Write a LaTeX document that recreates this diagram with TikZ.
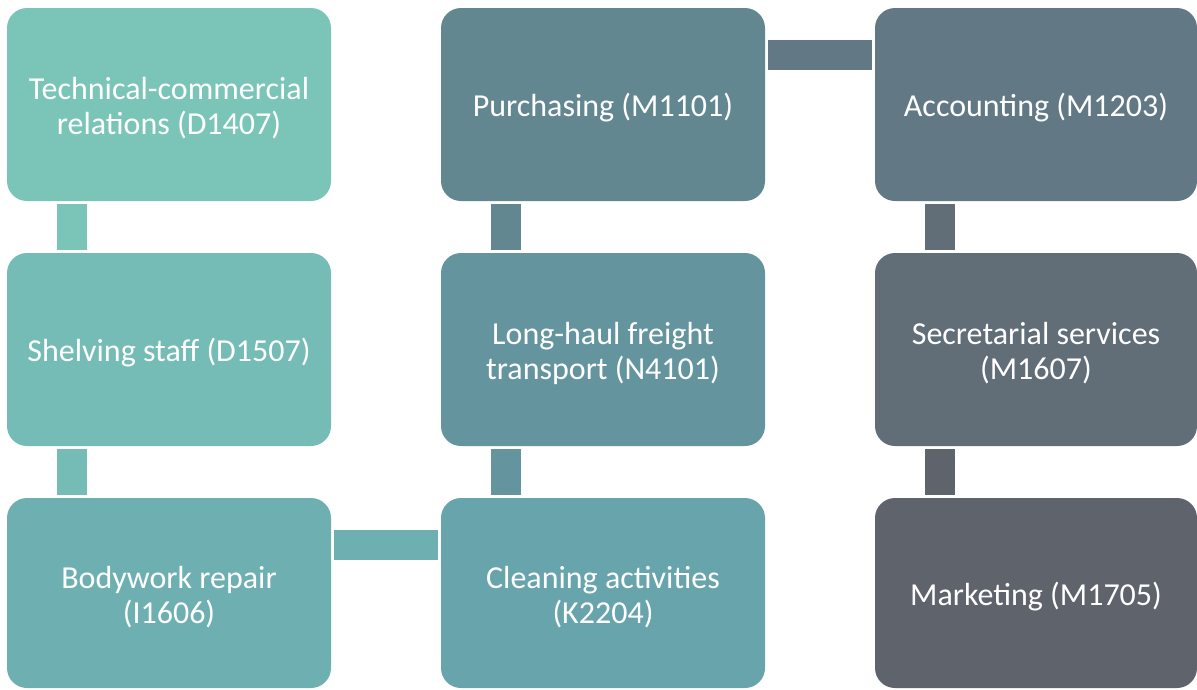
\documentclass[tikz,border=0pt]{standalone}
\usepackage{fontspec}
\setmainfont{Carlito}
\definecolor{cA}{RGB}{122,197,184}
\definecolor{cB}{RGB}{116,188,181}
\definecolor{cC}{RGB}{110,176,177}
\definecolor{cD}{RGB}{104,164,171}
\definecolor{cE}{RGB}{100,148,157}
\definecolor{cF}{RGB}{98,135,145}
\definecolor{cG}{RGB}{98,120,133}
\definecolor{cH}{RGB}{97,109,119}
\definecolor{cI}{RGB}{94,99,108}
\newcommand{\topstrut}{\rule{0pt}{30pt}}
\tikzset{
  box/.style={fill=#1, draw=none, rounded corners=20pt, inner sep=0pt,
    minimum width=324pt, minimum height=193pt, align=center, text=white,
    font=\fontsize{32}{35}\selectfont,
    execute at begin node={\topstrut}},
  bar/.style={draw=#1, line width=30pt, shorten <=3pt, shorten >=3pt}
}
\begin{document}
\begin{tikzpicture}[x=1pt,y=-1pt]
\useasboundingbox (0,0) rectangle (1197,689);
% column 1
\node[box=cA] (tech) at (169,104.5) {\topstrut Technical-commercial\\relations (D1407)};
\node[box=cB] (shelf) at (169,349.5) {Shelving staff (D1507)};
\node[box=cC, minimum height=190pt] (body) at (169,593) {\topstrut Bodywork repair\\(I1606)};
% column 2
\node[box=cF] (purch) at (603,104.5) {Purchasing (M1101)};
\node[box=cE] (long) at (603,349.5) {\topstrut Long-haul freight\\transport (N4101)};
\node[box=cD, minimum height=190pt] (clean) at (603,593) {\topstrut Cleaning activities\\(K2204)};
% column 3
\node[box=cG, minimum width=322pt] (acc) at (1036,104.5) {Accounting (M1203)};
\node[box=cH, minimum width=322pt] (secr) at (1036,349.5) {\topstrut Secretarial services\\(M1607)};
\node[box=cI, minimum width=322pt, minimum height=190pt] (mark) at (1036,593) {Marketing (M1705)};
% connectors
\draw[bar=cA] ([xshift=-97pt]tech.south) -- ([xshift=-97pt]shelf.north);
\draw[bar=cB] ([xshift=-97pt]shelf.south) -- ([xshift=-97pt]body.north);
\draw[bar=cC] ([yshift=48pt]body.east) -- ([yshift=48pt]clean.west);
\draw[bar=cE] ([xshift=-97pt]clean.north) -- ([xshift=-97pt]long.south);
\draw[bar=cF] ([xshift=-97pt]long.north) -- ([xshift=-97pt]purch.south);
\draw[bar=cG] ([yshift=49.5pt]purch.east) -- ([yshift=49.5pt]acc.west);
\draw[bar=cH] ([xshift=-96pt]acc.south) -- ([xshift=-96pt]secr.north);
\draw[bar=cI] ([xshift=-96pt]secr.south) -- ([xshift=-96pt]mark.north);
\end{tikzpicture}
\end{document}
